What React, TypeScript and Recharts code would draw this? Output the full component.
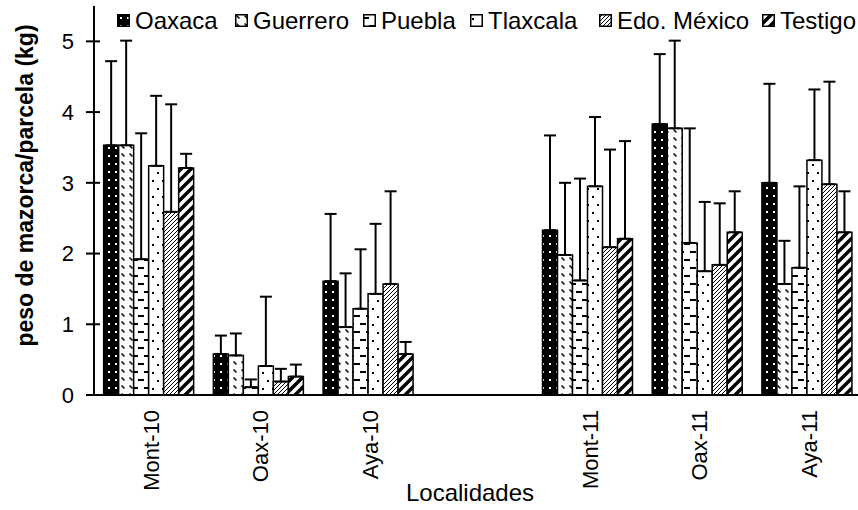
import { Bar, BarChart, ErrorBar, XAxis, YAxis } from "recharts";

const FONT = '"Liberation Sans", Arial, sans-serif';

const localidades = ["Mont-10", "Oax-10", "Aya-10", "", "Mont-11", "Oax-11", "Aya-11"];

// means (kg) and upper error (kg); the gap column is empty
const oaxaca = [3.53, 0.58, 1.61, null, 2.33, 3.83, 3.0];
const oaxacaErr = [1.19, 0.26, 0.95, null, 1.34, 0.99, 1.4];
const guerrero = [3.53, 0.56, 0.96, null, 1.98, 3.77, 1.57];
const guerreroErr = [1.48, 0.31, 0.76, null, 1.02, 1.24, 0.61];
const puebla = [1.92, 0.11, 1.22, null, 1.62, 2.15, 1.8];
const pueblaErr = [1.78, 0.11, 0.84, null, 1.44, 1.62, 1.15];
const tlaxcala = [3.24, 0.41, 1.43, null, 2.95, 1.75, 3.32];
const tlaxcalaErr = [0.99, 0.98, 0.99, null, 0.98, 0.98, 1.0];
const edoMexico = [2.59, 0.19, 1.57, null, 2.09, 1.84, 2.98];
const edoMexicoErr = [1.52, 0.18, 1.31, null, 1.38, 0.87, 1.45];
const testigo = [3.21, 0.26, 0.58, null, 2.21, 2.3, 2.3];
const testigoErr = [0.2, 0.17, 0.17, null, 1.38, 0.58, 0.58];

const yTicks = [0, 1, 2, 3, 4, 5];

const series = [
  { key: "oaxaca", name: "Oaxaca", values: oaxaca, err: oaxacaErr, fill: "url(#pOax)" },
  { key: "guerrero", name: "Guerrero", values: guerrero, err: guerreroErr, fill: "url(#pGue)" },
  { key: "puebla", name: "Puebla", values: puebla, err: pueblaErr, fill: "url(#pPue)" },
  { key: "tlaxcala", name: "Tlaxcala", values: tlaxcala, err: tlaxcalaErr, fill: "url(#pTla)" },
  { key: "edoMexico", name: "Edo. México", values: edoMexico, err: edoMexicoErr, fill: "url(#pEdo)" },
  { key: "testigo", name: "Testigo", values: testigo, err: testigoErr, fill: "url(#pTes)" },
];

// left edge of each legend swatch
const legendX = [117, 235, 363, 470, 599, 762];

const data = localidades.map((loc, i) => {
  const row: Record<string, any> = { loc };
  series.forEach((s) => {
    row[s.key] = s.values[i];
    row[s.key + "Err"] = s.err[i] == null ? undefined : [0, s.err[i]];
  });
  return row;
});

function Patterns() {
  return (
    <svg width={0} height={0} style={{ position: "absolute" }}>
      <defs>
        <pattern id="pOax" patternUnits="userSpaceOnUse" width={7} height={8}>
          <rect width={7} height={8} fill="#000" />
          <rect x={3} y={3} width={2} height={2} fill="#fff" />
        </pattern>
        <pattern id="pGue" patternUnits="userSpaceOnUse" width={8} height={8}>
          <rect width={8} height={8} fill="#fff" />
          <path d="M1.5,1.5 L4.5,4.5" stroke="#000" strokeWidth={1.5} />
        </pattern>
        <pattern id="pPue" patternUnits="userSpaceOnUse" width={12} height={16}>
          <rect width={12} height={16} fill="#fff" />
          <path d="M0,4 L6,4 M6,12 L12,12" stroke="#000" strokeWidth={1.8} />
        </pattern>
        <pattern id="pTla" patternUnits="userSpaceOnUse" width={10} height={16}>
          <rect width={10} height={16} fill="#fff" />
          <rect x={2} y={4} width={2} height={2} fill="#000" />
          <rect x={7} y={12} width={2} height={2} fill="#000" />
        </pattern>
        <pattern id="pEdo" patternUnits="userSpaceOnUse" width={4} height={4}>
          <rect width={4} height={4} fill="#fff" />
          <path d="M0,4 L4,0 M-1,1 L1,-1 M3,5 L5,3" stroke="#000" strokeWidth={1} />
        </pattern>
        <pattern id="pTes" patternUnits="userSpaceOnUse" width={10} height={10}>
          <rect width={10} height={10} fill="#fff" />
          <path d="M0,10 L10,0 M-5,5 L5,-5 M5,15 L15,5" stroke="#000" strokeWidth={3.5} />
        </pattern>
      </defs>
    </svg>
  );
}

function YTick(props: any) {
  const { x, y, payload } = props;
  return (
    <g>
      <line x1={x + 20} x2={x + 26} y1={y} y2={y} stroke="#000" strokeWidth={2} />
      <text x={x} y={y} dy="0.35em" textAnchor="end" fontSize={22} fontFamily={FONT} fill="#000">
        {payload.value}
      </text>
    </g>
  );
}

function XTick(props: any) {
  const { x, y, payload } = props;
  if (!payload.value) return null;
  return (
    <text
      transform={`translate(${x},${y}) rotate(-90)`}
      textAnchor="end"
      dy="0.45em"
      fontSize={22}
      fontFamily={FONT}
      fill="#000"
    >
      {payload.value}
    </text>
  );
}

function YTitle(props: any) {
  const vb = props.viewBox;
  const cx = vb.x + 25;
  const cy = vb.y + vb.height / 2 - 15;
  return (
    <text
      transform={`translate(${cx},${cy}) rotate(-90)`}
      textAnchor="middle"
      dy="0.35em"
      fontSize={23}
      fontWeight="bold"
      fontFamily={FONT}
      fill="#000"
    >
      peso de mazorca/parcela (kg)
    </text>
  );
}

function XTitle(props: any) {
  const vb = props.viewBox;
  return (
    <text
      x={vb.x + vb.width / 2 - 8}
      y={vb.y + 106}
      textAnchor="middle"
      fontSize={24}
      fontFamily={FONT}
      fill="#000"
    >
      Localidades
    </text>
  );
}

function LegendRow() {
  return (
    <>
      {series.map((s, i) => (
        <div
          key={s.key}
          style={{
            position: "absolute",
            left: legendX[i],
            top: 7,
            display: "flex",
            alignItems: "center",
            gap: 5,
            fontFamily: FONT,
            fontSize: 24,
            lineHeight: "27px",
            color: "#000",
            whiteSpace: "nowrap",
          }}
        >
          <svg width={13} height={13} style={{ display: "block" }}>
            <rect x={0.75} y={0.75} width={11.5} height={11.5} fill={s.fill} stroke="#000" strokeWidth={1.5} />
          </svg>
          <span>{s.name}</span>
        </div>
      ))}
    </>
  );
}

export default function App() {
  return (
    <div
      style={{
        position: "absolute",
        left: 0,
        top: 0,
        width: 858,
        height: 510,
        overflow: "hidden",
        background: "#fff",
      }}
    >
      <Patterns />
      <BarChart
        width={866}
        height={510}
        data={data}
        margin={{ top: 6, right: 4, left: 0, bottom: 0 }}
        barCategoryGap="8.8%"
        barGap={0}
      >
        <XAxis
          dataKey="loc"
          interval={0}
          height={115}
          tickLine={false}
          tickSize={0}
          tickMargin={15}
          tick={<XTick />}
          axisLine={{ stroke: "#000", strokeWidth: 2 }}
          label={{ content: XTitle }}
        />
        <YAxis
          width={94}
          domain={[0, 5.5]}
          ticks={yTicks}
          tickSize={8}
          tickMargin={12}
          tick={<YTick />}
          tickLine={{ stroke: "#000", strokeWidth: 2 }}
          axisLine={{ stroke: "#000", strokeWidth: 2 }}
          label={{ content: YTitle }}
        />
        {series.map((s) => (
          <Bar
            key={s.key}
            dataKey={s.key}
            name={s.name}
            fill={s.fill}
            stroke="#000"
            strokeWidth={1.5}
            isAnimationActive={false}
          >
            <ErrorBar dataKey={s.key + "Err"} direction="y" width={6} stroke="#000" strokeWidth={2} />
          </Bar>
        ))}
      </BarChart>
      <LegendRow />
    </div>
  );
}
